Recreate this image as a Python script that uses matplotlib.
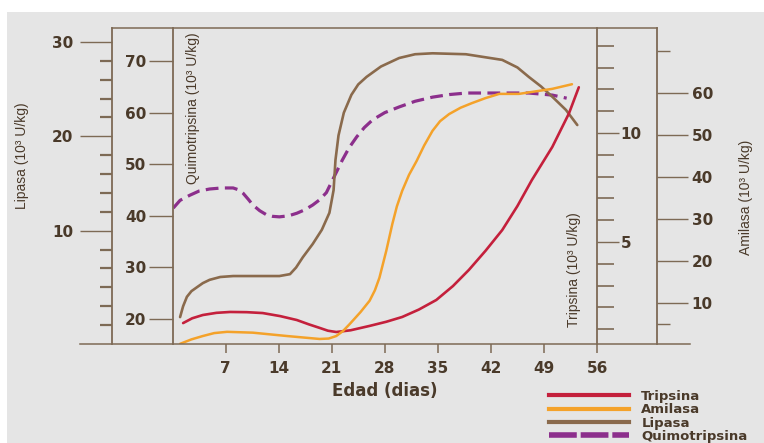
import matplotlib
matplotlib.use("Agg")
import matplotlib.pyplot as plt
from matplotlib.lines import Line2D
from matplotlib.patches import Rectangle

# curves (x in days)
dias_lip = [1.0, 1.4, 1.9, 2.5, 3.2, 4.0, 4.9, 6.3, 8.0, 10.2, 14.1, 15.5, 16.3, 17.2, 18.5,
            19.7, 20.7, 21.25, 21.5, 21.9, 22.6, 23.6, 24.5, 25.6, 27.5, 29.9, 32.0, 34.3,
            38.7, 43.5, 45.5, 47.0, 48.6, 50.1, 51.9, 53.4]
lipasa = [0.85, 2.0, 3.0, 3.6, 4.0, 4.45, 4.8, 5.1, 5.2, 5.2, 5.2, 5.4, 6.1, 7.2, 8.6,
          10.1, 11.9, 14.3, 17.5, 20.1, 22.5, 24.4, 25.5, 26.3, 27.4, 28.3, 28.7, 28.8,
          28.7, 28.1, 27.3, 26.3, 25.3, 24.2, 22.8, 21.2]

dias_quim = [0.1, 1.0, 2.3, 3.5, 4.9, 6.5, 8.0, 8.8, 9.3, 10.0, 10.6, 11.5, 12.4, 13.2, 14.1,
             15.3, 16.4, 17.5, 18.5, 19.4, 20.3, 21.1, 22.4, 23.3, 24.3, 25.3, 26.4, 28.0,
             29.9, 32.0, 34.3, 36.5, 38.8, 43.1, 47.0, 50.1, 52.0]
quimo = [41.5, 43.0, 44.0, 44.8, 45.2, 45.4, 45.4, 45.0, 44.4, 43.2, 42.1, 41.0, 40.2, 39.9,
         39.8, 40.0, 40.5, 41.2, 42.1, 43.1, 44.5, 46.9, 50.8, 53.2, 55.3, 57.1, 58.6, 60.0,
         61.1, 62.2, 63.0, 63.5, 63.8, 63.8, 63.8, 63.4, 62.8]

dias_ami = [1.0, 2.5, 4.0, 5.5, 7.2, 10.6, 15.1, 19.4, 20.6, 21.6, 22.5, 23.4, 24.8, 26.0,
            26.7, 27.3, 28.2, 29.0, 29.6, 30.3, 31.2, 32.2, 33.2, 34.3, 35.3, 36.5, 38.0,
            39.5, 41.3, 43.1, 45.7, 50.1, 52.7]
amilasa = [0.24, 1.3, 2.1, 2.8, 3.1, 2.9, 2.1, 1.4, 1.5, 2.1, 3.3, 5.0, 7.8, 10.5,
           13.0, 16.0, 22.4, 28.8, 33.0, 36.7, 40.5, 43.8, 47.5, 51.0, 53.3, 55.0, 56.5,
           57.6, 58.8, 59.8, 59.8, 61.0, 62.1]

dias_tri = [1.4, 2.6, 4.0, 5.8, 7.6, 9.8, 11.9, 14.2, 16.4, 18.0, 19.4, 20.5, 21.6, 23.5,
            26.0, 28.2, 30.3, 32.5, 34.8, 37.0, 39.1, 41.3, 43.5, 45.5, 47.4, 50.1, 52.3, 53.6]
tripsina = [1.28, 1.5, 1.65, 1.75, 1.79, 1.78, 1.74, 1.6, 1.42, 1.22, 1.06, 0.93, 0.87, 0.95,
            1.15, 1.34, 1.56, 1.9, 2.34, 2.98, 3.72, 4.6, 5.55, 6.65, 7.84, 9.36, 10.9, 12.1]

xticks = [7, 14, 21, 28, 35, 42, 49, 56]

c_tri = "#c4203c"
c_ami = "#f4a22a"
c_lip = "#8a6a4c"
c_qui = "#8c2f8c"
c_axis = "#7d6a55"
c_txt = "#4a3a2a"

W, H = 764, 443
fig = plt.figure(figsize=(W / 100, H / 100), dpi=100, facecolor="white")
fig.patches.append(Rectangle((7 / W, 0), 1, 1 - 12 / H, transform=fig.transFigure,
                             facecolor="#e5e5e5", edgecolor="none", zorder=-10))

def fx(px):
    return px / W

def fy(py):
    return 1 - py / H

left, right, top, bottom = 172.5, 597, 28, 344
ax_q = fig.add_axes([fx(left), fy(bottom), (right - left) / W, (bottom - top) / H])
ax_q.patch.set_visible(False)
ax_l = ax_q.twinx()
ax_t = ax_q.twinx()
ax_a = ax_q.twinx()

tick_font = dict(fontsize=11, fontweight="bold", color=c_txt, family="DejaVu Sans")

for a in (ax_q, ax_l, ax_t, ax_a):
    for s in a.spines.values():
        s.set_visible(False)
        s.set_color(c_axis)
        s.set_linewidth(1.3)
    a.set_xlim(0, 56)

# x axis
ax_q.set_xticks(xticks)
ax_q.set_xticklabels([str(v) for v in xticks], **tick_font)
ax_q.tick_params(axis="x", direction="out", length=6.5, width=1.1, color=c_axis, pad=6)
ax_q.set_xlabel("Edad (dias)", fontsize=12, fontweight="bold", color=c_txt, labelpad=4)

# Quimotripsina axis (left, inner)
ax_q.spines["left"].set_visible(True)
ax_q.set_ylim(15.16, 76.4)
ax_q.set_yticks([20, 30, 40, 50, 60, 70])
ax_q.set_yticklabels(["20", "30", "40", "50", "60", "70"], **tick_font)
ax_q.tick_params(axis="y", direction="out", length=17, width=1.0, color=c_axis, pad=2)

# Lipasa axis (left, outer)
ax_l.spines["left"].set_visible(True)
ax_l.spines["left"].set_position(("axes", (112 - left) / (right - left)))
ax_l.yaxis.set_ticks_position("left")
ax_l.set_ylim(-2.0, 31.48)
ax_l.set_yticks([10, 20, 30])
ax_l.set_yticks(list(range(0, 30, 2)), minor=True)
ax_l.set_yticklabels(["10", "20", "30"], **tick_font)
ax_l.tick_params(axis="y", which="major", direction="out", length=23, width=1.0,
                 color=c_axis, pad=5)
ax_l.tick_params(axis="y", which="minor", direction="out", length=8.5, width=1.6,
                 color=c_axis)

# Tripsina axis (right, inner)
ax_t.spines["right"].set_visible(True)
ax_t.set_ylim(0.32, 14.82)
ax_t.set_yticks([5, 10])
ax_t.set_yticks([1, 2, 3, 4, 6, 7, 8, 9, 11, 12, 13, 14], minor=True)
ax_t.set_yticklabels(["5", "10"], **tick_font)
ax_t.tick_params(axis="y", which="major", direction="out", length=16, width=1.0,
                 color=c_axis, pad=1)
ax_t.tick_params(axis="y", which="minor", direction="out", length=12, width=1.2,
                 color=c_axis)

# Amilasa axis (right, outer)
ax_a.spines["right"].set_visible(True)
ax_a.spines["right"].set_position(("axes", (657 - left) / (right - left)))
ax_a.set_ylim(0.2, 75.5)
ax_a.set_yticks([10, 20, 30, 40, 50, 60])
ax_a.set_yticks([5, 70], minor=True)
ax_a.set_yticklabels(["10", "20", "30", "40", "50", "60"], **tick_font)
ax_a.tick_params(axis="y", which="major", direction="out", length=22, width=1.0,
                 color=c_axis, pad=3)
ax_a.tick_params(axis="y", which="minor", direction="out", length=9, width=1.0,
                 color=c_axis)

# curves
ax_a.plot(dias_ami, amilasa, color=c_ami, lw=1.8, solid_capstyle="round", solid_joinstyle="round")
ax_l.plot(dias_lip, lipasa, color=c_lip, lw=1.9, solid_capstyle="round", solid_joinstyle="round")
ax_t.plot(dias_tri, tripsina, color=c_tri, lw=1.9, solid_capstyle="round", solid_joinstyle="round")
ax_q.plot(dias_quim, quimo, color=c_qui, lw=2.3, dashes=(4, 2))

# frame lines above and below
fig.add_artist(Line2D([fx(112), fx(657)], [fy(top), fy(top)], color=c_axis, lw=1.1))
fig.add_artist(Line2D([fx(80), fx(690)], [fy(bottom), fy(bottom)], color=c_axis, lw=1.1))

# axis titles
lab_font = dict(fontsize=10, color=c_txt, family=["Liberation Sans Narrow", "Liberation Sans"],
                rotation=90, ha="center", va="center")
fig.text(fx(22), fy(156), "Lipasa (10³ U/kg)", **lab_font)
fig.text(fx(193), fy(108), "Quimotripsina (10³ U/kg)", **lab_font)
fig.text(fx(574), fy(270), "Tripsina (10³ U/kg)", **lab_font)
fig.text(fx(746), fy(197), "Amilasa (10³ U/kg)", **lab_font)

# legend
handles = [Line2D([], [], color=c_tri, lw=3),
           Line2D([], [], color=c_ami, lw=3),
           Line2D([], [], color=c_lip, lw=3),
           Line2D([], [], color=c_qui, lw=4, dashes=(5, 0.7))]
names = ["Tripsina", "Amilasa", "Lipasa", "Quimotripsina"]
fig.legend(handles, names, loc="upper left", bbox_to_anchor=(fx(549), fy(390)),
           frameon=False, borderpad=0, borderaxespad=0, labelspacing=0.02,
           handlelength=6.1, handletextpad=0.9,
           prop=dict(family="DejaVu Sans", weight="bold", size=9.5),
           labelcolor=c_txt)

fig.savefig("out.png", dpi=100, facecolor=fig.get_facecolor())
